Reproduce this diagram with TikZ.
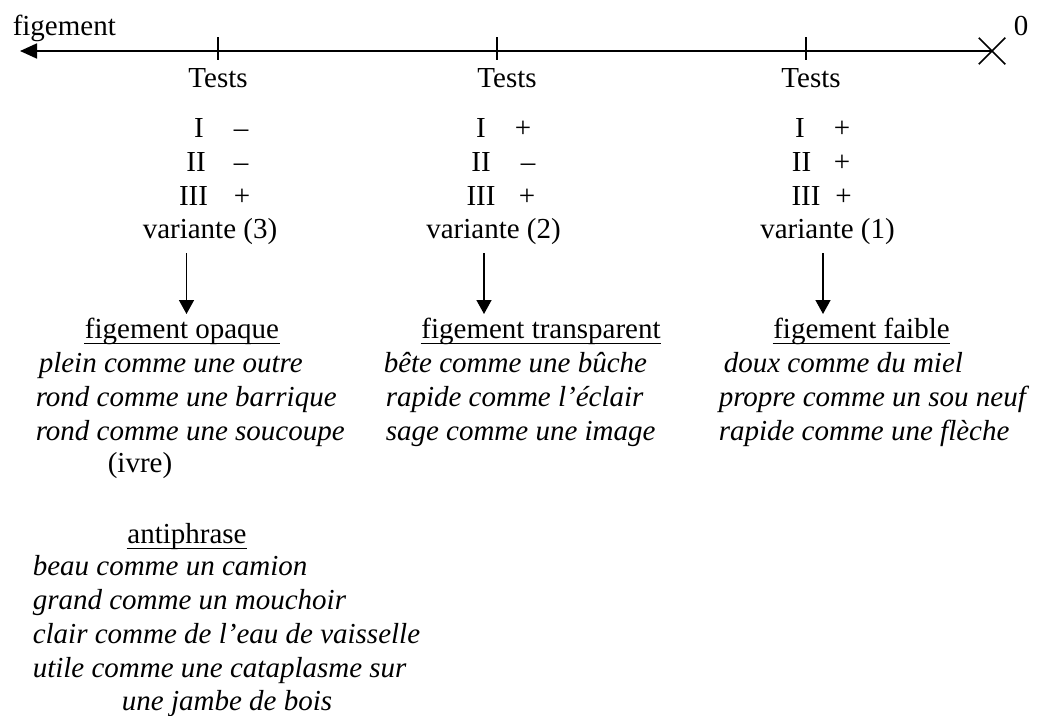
\documentclass[tikz,border=0pt]{standalone}
\usepackage{fontspec}
\setmainfont{Liberation Serif}
\usepackage{tikz}
\usetikzlibrary{arrows.meta,shapes.misc}

\begin{document}
\begin{tikzpicture}[x=1pt,y=-1pt,
    lbl/.style={inner sep=0pt,anchor=base,font=\fontsize{29}{34}\selectfont},
    expr/.style={lbl,anchor=base west,font=\fontsize{29}{34}\selectfont\itshape}]
\useasboundingbox (0,0) rectangle (1039,715);
\begin{scope}[>={Triangle[length=14pt,width=15pt]},line width=1.5pt]
    % the axis, from 0 to figement
    \node[draw,cross out,minimum size=25pt,inner sep=0pt] (zero) at (992,51) {};
    \coordinate (axisend) at (20,51);
    \draw[line width=1.8pt,-{Triangle[length=17pt,width=15pt]}] (zero.center) -- (axisend);
    \node[lbl,anchor=base west] (figlbl) at (12,35) {figement};
    \node[lbl,anchor=base west] (zerolbl) at (1013,35) {0};
    \draw (218,37) -- (218,60);
    \draw (497,37) -- (497,60);
    \draw (806,37) -- (806,60);

    % variante (3)
    \node[lbl] (testsopq) at (218,87) {Tests};
    \node[lbl] (iopq) at (199,137) {I};
    \node[lbl] (iiopq) at (196,171.5) {II};
    \node[lbl] (iiiopq) at (193.5,205) {III};
    \node[lbl] (siopq) at (241,137) {–};
    \node[lbl] (siiopq) at (241,171.5) {–};
    \node[lbl] (siiiopq) at (242,205) {+};
    \node[lbl] (varopq) at (210,238) {variante (3)};

    % variante (2)
    \node[lbl] (teststrp) at (507,87) {Tests};
    \node[lbl] (itrp) at (481,137) {I};
    \node[lbl] (iitrp) at (481,171.5) {II};
    \node[lbl] (iiitrp) at (481,205) {III};
    \node[lbl] (sitrp) at (523,137) {+};
    \node[lbl] (siitrp) at (528,171.5) {–};
    \node[lbl] (siiitrp) at (527,205) {+};
    \node[lbl] (vartrp) at (493.5,238) {variante (2)};

    % variante (1)
    \node[lbl] (testsfbl) at (811,87) {Tests};
    \node[lbl] (ifbl) at (800,137) {I};
    \node[lbl] (iifbl) at (801.5,171.5) {II};
    \node[lbl] (iiifbl) at (806,205) {III};
    \node[lbl] (sifbl) at (842,137) {+};
    \node[lbl] (siifbl) at (842,171.5) {+};
    \node[lbl] (siiifbl) at (843.5,205) {+};
    \node[lbl] (varfbl) at (827.5,238) {variante (1)};

    % arrows down
    \coordinate (topopq) at (186.5,253);
    \coordinate (botopq) at (186.5,314);
    \coordinate (toptrp) at (484,253);
    \coordinate (bottrp) at (484,314);
    \coordinate (topfbl) at (823,253);
    \coordinate (botfbl) at (823,314);
    \draw[->] (topopq) -- (botopq);
    \draw[->] (toptrp) -- (bottrp);
    \draw[->] (topfbl) -- (botfbl);

    % figement opaque
    \node[lbl] (opq) at (182,338) {figement opaque};
    \draw[line width=1.2pt] ([yshift=-5.5pt]opq.base west) -- ([yshift=-5.5pt]opq.base east);
    \node[expr] (opqa) at (38,372) {plein comme une outre};
    \node[expr] (opqb) at (35,406) {rond comme une barrique};
    \node[expr] (opqc) at (35,440) {rond comme une soucoupe};
    \node[lbl] (ivre) at (140,472) {(ivre)};

    % figement transparent
    \node[lbl] (trp) at (541,338) {figement transparent};
    \draw[line width=1.2pt] ([yshift=-5.5pt]trp.base west) -- ([yshift=-5.5pt]trp.base east);
    \node[expr] (trpa) at (383,372) {bête comme une bûche};
    \node[expr] (trpb) at (385,406) {rapide comme l’éclair};
    \node[expr] (trpc) at (385,440) {sage comme une image};

    % figement faible
    \node[lbl] (fbl) at (861.5,338) {figement faible};
    \draw[line width=1.2pt] ([yshift=-5.5pt]fbl.base west) -- ([yshift=-5.5pt]fbl.base east);
    \node[expr] (fbla) at (723,372) {doux comme du miel};
    \node[expr] (fblb) at (718,406) {propre comme un sou neuf};
    \node[expr] (fblc) at (718,440) {rapide comme une flèche};

    % antiphrase
    \node[lbl] (anti) at (187,543) {antiphrase};
    \draw[line width=1.2pt] ([yshift=-5.5pt]anti.base west) -- ([yshift=-5.5pt]anti.base east);
    \node[expr] (antia) at (32,575) {beau comme un camion};
    \node[expr] (antib) at (32,609) {grand comme un mouchoir};
    \node[expr] (antic) at (32,643) {clair comme de l’eau de vaisselle};
    \node[expr] (antid) at (32,677) {utile comme une cataplasme sur};
    \node[lbl] (antie) at (227,710) {\itshape une jambe de bois};
\end{scope}
\end{tikzpicture}
\end{document}
